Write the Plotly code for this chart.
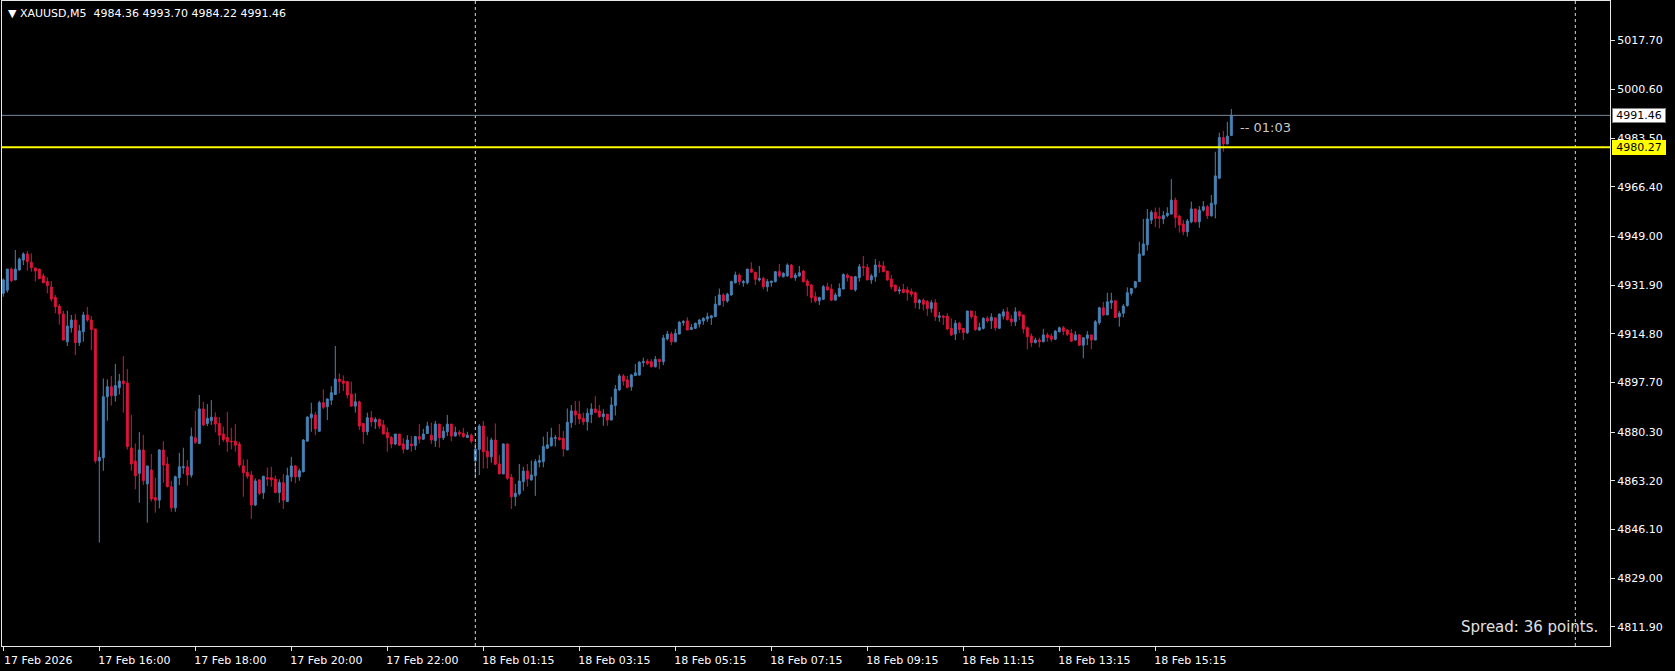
import plotly.graph_objects as go

# ---------------- data (XAUUSD, M5) ----------------
opens = [
    4929.0, 4930.1, 4937.5, 4933.7, 4937.2, 4940.7, 4942.8, 4939.9, 4937.9, 4937.5,
    4935.1, 4933.1, 4931.2, 4927.6, 4924.5, 4921.7, 4912.0, 4916.9, 4919.6, 4911.7,
    4915.5, 4921.4, 4919.6, 4916.5, 4870.2, 4871.3, 4892.7, 4896.2, 4893.1, 4895.9,
    4898.2, 4897.5, 4874.7, 4870.1, 4865.8, 4874.0, 4862.1, 4867.0, 4857.3, 4856.4,
    4874.0, 4869.1, 4861.1, 4853.7, 4864.3, 4867.8, 4868.1, 4865.2, 4878.3, 4876.3,
    4888.4, 4883.3, 4884.3, 4885.5, 4883.3, 4879.6, 4878.4, 4877.1, 4877.1, 4876.1,
    4868.4, 4866.1, 4865.2, 4854.7, 4863.5, 4859.0, 4864.3, 4864.3, 4863.8, 4859.1,
    4862.5, 4855.9, 4864.6, 4868.4, 4864.6, 4866.4, 4877.1, 4885.3, 4886.3, 4880.6,
    4890.6, 4889.2, 4891.5, 4893.5, 4898.9, 4898.2, 4898.0, 4893.6, 4889.4, 4890.9,
    4883.3, 4880.4, 4885.3, 4883.9, 4884.7, 4882.8, 4880.1, 4878.4, 4876.1, 4879.6,
    4876.1, 4874.3, 4876.1, 4875.5, 4878.7, 4877.8, 4879.8, 4879.2, 4877.3, 4883.1,
    4878.3, 4880.4, 4883.1, 4878.9, 4880.2, 4879.8, 4878.4, 4879.2, 4870.2, 4874.2,
    4882.4, 4873.6, 4871.6, 4877.5, 4869.1, 4865.6, 4876.1, 4864.4, 4857.6, 4858.6,
    4862.9, 4866.6, 4863.5, 4865.0, 4869.7, 4869.9, 4874.6, 4875.5, 4878.1, 4878.3,
    4878.1, 4874.0, 4883.6, 4887.7, 4886.6, 4885.1, 4883.9, 4886.5, 4888.4, 4887.7,
    4885.7, 4886.6, 4884.5, 4889.6, 4895.1, 4900.0, 4898.6, 4896.2, 4900.1, 4900.3,
    4904.7, 4905.2, 4905.0, 4903.2, 4905.8, 4905.0, 4913.0, 4914.7, 4912.0, 4914.7,
    4918.7, 4919.3, 4916.3, 4916.7, 4918.2, 4919.3, 4920.0, 4920.4, 4920.8, 4924.9,
    4928.4, 4926.3, 4928.4, 4932.7, 4935.4, 4932.7, 4932.7, 4937.5, 4936.4, 4933.7,
    4934.2, 4931.3, 4932.8, 4933.1, 4936.6, 4934.8, 4935.1, 4938.9, 4934.5, 4935.1,
    4936.8, 4933.3, 4931.9, 4927.8, 4926.4, 4926.9, 4931.3, 4930.5, 4926.6, 4928.0,
    4930.5, 4935.4, 4934.8, 4930.2, 4934.5, 4938.3, 4938.1, 4933.7, 4934.8, 4938.9,
    4938.6, 4936.8, 4934.0, 4931.9, 4929.8, 4930.4, 4930.2, 4929.6, 4929.2, 4925.7,
    4926.6, 4926.1, 4923.7, 4925.7, 4920.6, 4921.0, 4921.0, 4916.7, 4914.7, 4918.5,
    4916.7, 4915.2, 4922.8, 4921.0, 4916.1, 4916.7, 4920.2, 4919.4, 4920.4, 4916.7,
    4921.0, 4922.5, 4920.0, 4919.0, 4922.5, 4921.4, 4916.9, 4914.0, 4911.7, 4912.6,
    4912.0, 4914.4, 4914.0, 4912.9, 4915.5, 4916.9, 4916.1, 4914.9, 4912.6, 4914.4,
    4910.8, 4913.2, 4914.4, 4912.6, 4918.7, 4923.9, 4921.4, 4925.7, 4926.4, 4920.8,
    4922.0, 4924.7, 4929.0, 4931.1, 4933.1, 4942.4, 4946.0, 4954.7, 4957.4, 4955.9,
    4955.1, 4956.3, 4956.8, 4961.7, 4956.1, 4953.3, 4950.6, 4954.1, 4958.6, 4954.1,
    4958.2, 4959.4, 4956.2, 4960.3, 4969.4, 4983.7, 4981.4, 4984.36,
]
highs = [
    4934.2, 4937.5, 4938.1, 4944.2, 4941.6, 4943.4, 4943.8, 4943.0, 4937.9, 4937.5,
    4936.0, 4934.6, 4933.3, 4928.4, 4925.2, 4922.9, 4922.9, 4921.4, 4921.7, 4917.9,
    4922.5, 4924.2, 4921.0, 4916.5, 4873.8, 4899.1, 4898.8, 4900.0, 4904.2, 4900.7,
    4907.0, 4902.4, 4886.3, 4876.3, 4880.3, 4879.3, 4868.4, 4872.6, 4864.3, 4874.3,
    4877.1, 4871.6, 4863.2, 4865.0, 4873.0, 4874.8, 4870.5, 4881.9, 4887.8, 4893.3,
    4890.9, 4890.1, 4891.5, 4887.2, 4885.5, 4882.2, 4887.4, 4881.8, 4883.1, 4876.9,
    4870.7, 4870.7, 4866.6, 4864.0, 4863.8, 4864.8, 4867.8, 4868.1, 4865.0, 4863.7,
    4865.6, 4867.8, 4871.6, 4868.7, 4867.5, 4877.8, 4885.9, 4890.6, 4887.4, 4891.3,
    4895.3, 4892.1, 4896.4, 4910.5, 4900.9, 4900.2, 4898.0, 4898.0, 4893.9, 4891.3,
    4883.3, 4887.1, 4887.7, 4885.5, 4885.1, 4884.5, 4881.9, 4878.9, 4879.6, 4879.6,
    4878.1, 4879.2, 4878.9, 4878.9, 4883.1, 4881.4, 4883.9, 4883.6, 4884.2, 4883.1,
    4882.2, 4886.3, 4883.1, 4882.2, 4881.0, 4881.8, 4880.4, 4879.8, 4876.5, 4883.1,
    4884.2, 4878.7, 4878.3, 4883.3, 4872.2, 4876.3, 4876.3, 4865.6, 4862.1, 4869.1,
    4868.1, 4869.1, 4870.3, 4870.8, 4872.2, 4878.7, 4880.4, 4881.8, 4879.3, 4883.1,
    4880.7, 4888.6, 4889.8, 4891.2, 4891.2, 4887.1, 4888.6, 4890.4, 4892.9, 4889.8,
    4888.3, 4886.6, 4892.7, 4896.8, 4900.7, 4900.7, 4900.0, 4900.7, 4904.2, 4905.2,
    4906.4, 4905.9, 4905.9, 4907.0, 4905.8, 4914.4, 4915.8, 4915.5, 4916.5, 4919.3,
    4919.6, 4920.6, 4918.2, 4918.7, 4920.0, 4920.6, 4922.2, 4921.4, 4928.0, 4930.7,
    4929.0, 4929.2, 4933.4, 4936.6, 4936.0, 4933.7, 4937.5, 4939.9, 4936.4, 4938.6,
    4934.8, 4934.0, 4933.3, 4936.6, 4939.3, 4936.4, 4939.5, 4939.3, 4936.2, 4938.6,
    4937.2, 4933.9, 4932.3, 4929.6, 4927.8, 4931.9, 4932.7, 4932.3, 4929.2, 4932.5,
    4936.0, 4936.0, 4935.1, 4935.1, 4939.3, 4942.1, 4939.3, 4935.8, 4941.0, 4940.3,
    4940.3, 4936.8, 4935.4, 4931.9, 4931.3, 4932.3, 4931.3, 4930.7, 4929.6, 4927.0,
    4927.2, 4926.6, 4926.6, 4926.9, 4922.5, 4921.4, 4922.0, 4920.2, 4919.6, 4919.0,
    4916.7, 4922.8, 4922.8, 4922.8, 4918.7, 4920.6, 4921.0, 4922.0, 4920.5, 4921.9,
    4923.5, 4924.1, 4921.4, 4924.1, 4922.9, 4921.4, 4917.3, 4914.9, 4913.4, 4913.4,
    4916.5, 4915.2, 4914.9, 4916.1, 4917.3, 4917.5, 4916.5, 4916.5, 4915.7, 4914.7,
    4913.4, 4915.7, 4914.4, 4919.6, 4924.3, 4926.0, 4929.2, 4929.2, 4926.4, 4922.8,
    4925.2, 4931.1, 4930.7, 4933.3, 4947.1, 4955.1, 4958.6, 4958.2, 4959.1, 4959.1,
    4957.9, 4959.2, 4969.1, 4962.6, 4956.5, 4954.7, 4955.1, 4961.2, 4958.8, 4959.6,
    4961.4, 4960.0, 4963.5, 4978.7, 4985.4, 4986.0, 4989.2, 4993.70,
]
lows = [
    4927.8, 4929.2, 4933.0, 4933.7, 4936.9, 4938.9, 4936.9, 4936.6, 4933.1, 4934.1,
    4932.5, 4929.0, 4926.1, 4922.0, 4918.0, 4912.4, 4910.5, 4915.2, 4907.3, 4910.5,
    4912.0, 4919.0, 4909.1, 4869.3, 4841.5, 4866.7, 4884.3, 4889.6, 4891.0, 4893.5,
    4887.1, 4874.2, 4866.7, 4860.2, 4855.5, 4861.7, 4848.5, 4855.9, 4852.0, 4853.5,
    4862.5, 4860.9, 4852.3, 4852.3, 4861.7, 4865.6, 4861.5, 4864.3, 4876.1, 4876.1,
    4882.4, 4882.4, 4882.8, 4880.2, 4875.7, 4876.9, 4873.4, 4874.2, 4873.4, 4867.9,
    4857.6, 4863.9, 4849.8, 4854.3, 4858.2, 4856.8, 4861.3, 4861.1, 4858.8, 4855.5,
    4853.3, 4855.9, 4862.9, 4862.3, 4863.2, 4866.1, 4876.9, 4880.4, 4879.2, 4880.4,
    4888.4, 4884.5, 4889.8, 4893.3, 4893.9, 4894.7, 4892.1, 4889.2, 4887.1, 4881.0,
    4876.1, 4879.2, 4882.2, 4881.4, 4881.4, 4879.6, 4873.4, 4874.6, 4875.7, 4875.4,
    4872.8, 4874.0, 4873.4, 4874.0, 4876.3, 4877.5, 4879.6, 4876.1, 4875.1, 4874.8,
    4877.5, 4878.9, 4877.1, 4878.7, 4878.7, 4878.3, 4878.3, 4876.3, 4864.6, 4865.2,
    4867.5, 4867.5, 4869.5, 4868.7, 4865.6, 4865.6, 4863.5, 4853.3, 4854.3, 4858.0,
    4859.7, 4861.1, 4863.2, 4857.9, 4867.9, 4867.9, 4874.4, 4875.2, 4875.2, 4877.3,
    4871.7, 4874.0, 4881.8, 4882.8, 4883.1, 4882.8, 4880.8, 4883.4, 4886.9, 4885.3,
    4882.5, 4882.5, 4884.5, 4886.1, 4894.8, 4896.6, 4895.6, 4894.8, 4900.0, 4900.1,
    4903.2, 4903.8, 4903.0, 4903.0, 4902.4, 4903.8, 4912.4, 4910.8, 4911.8, 4914.6,
    4917.6, 4916.1, 4916.1, 4916.5, 4917.0, 4917.9, 4919.0, 4917.9, 4920.6, 4924.9,
    4924.3, 4925.7, 4928.2, 4932.5, 4931.9, 4931.3, 4932.1, 4936.4, 4931.9, 4933.1,
    4930.4, 4929.6, 4931.3, 4932.8, 4934.5, 4934.6, 4934.8, 4934.2, 4933.4, 4934.8,
    4932.7, 4928.0, 4925.7, 4925.7, 4924.9, 4926.6, 4929.9, 4926.3, 4926.6, 4927.8,
    4930.4, 4933.1, 4930.2, 4929.6, 4933.1, 4935.1, 4933.7, 4932.3, 4933.1, 4936.2,
    4936.4, 4933.4, 4930.4, 4929.6, 4928.7, 4929.0, 4926.4, 4927.8, 4923.7, 4923.4,
    4922.9, 4921.1, 4922.2, 4919.3, 4919.0, 4917.9, 4916.1, 4914.0, 4912.6, 4915.0,
    4912.6, 4914.7, 4920.0, 4915.8, 4915.8, 4916.3, 4918.7, 4916.5, 4915.9, 4916.5,
    4919.8, 4919.4, 4917.6, 4917.5, 4919.6, 4914.9, 4909.3, 4910.2, 4911.4, 4910.0,
    4911.8, 4912.0, 4912.0, 4912.6, 4915.3, 4914.3, 4914.0, 4912.0, 4912.4, 4910.6,
    4906.2, 4910.8, 4909.3, 4912.6, 4917.9, 4921.0, 4921.4, 4923.5, 4920.5, 4917.3,
    4920.6, 4924.3, 4928.2, 4930.7, 4933.1, 4942.4, 4944.0, 4953.3, 4952.2, 4951.8,
    4953.3, 4955.7, 4956.8, 4952.0, 4950.3, 4949.4, 4948.9, 4953.6, 4953.8, 4952.0,
    4957.7, 4955.1, 4955.9, 4955.3, 4969.1, 4978.7, 4981.4, 4984.22,
]
closes = [
    4933.7, 4937.5, 4933.4, 4937.5, 4941.0, 4942.8, 4940.1, 4938.0, 4936.8, 4934.1,
    4932.7, 4931.7, 4927.0, 4924.3, 4921.8, 4912.6, 4917.5, 4919.6, 4911.7, 4915.8,
    4921.4, 4919.6, 4916.3, 4870.2, 4871.4, 4892.7, 4896.2, 4893.1, 4896.6, 4898.2,
    4897.3, 4875.2, 4869.1, 4865.0, 4874.0, 4863.2, 4868.4, 4856.8, 4856.4, 4874.0,
    4868.7, 4861.1, 4853.7, 4864.6, 4868.1, 4868.1, 4865.2, 4878.7, 4876.7, 4888.4,
    4882.8, 4885.1, 4885.5, 4883.1, 4879.2, 4877.7, 4876.9, 4876.9, 4875.7, 4868.7,
    4866.0, 4864.8, 4854.7, 4863.1, 4858.8, 4864.8, 4863.8, 4863.5, 4859.1, 4862.6,
    4856.4, 4865.0, 4868.4, 4864.6, 4866.7, 4877.5, 4885.5, 4886.6, 4881.4, 4890.6,
    4889.0, 4891.9, 4894.1, 4898.9, 4898.0, 4897.4, 4893.3, 4889.4, 4890.9, 4882.4,
    4880.4, 4885.3, 4883.9, 4884.7, 4882.4, 4879.6, 4878.3, 4876.1, 4879.6, 4875.7,
    4874.3, 4877.5, 4875.5, 4878.7, 4877.8, 4879.6, 4882.4, 4877.5, 4883.1, 4878.3,
    4880.6, 4883.1, 4878.9, 4880.2, 4879.6, 4878.7, 4879.2, 4877.1, 4874.3, 4882.4,
    4873.4, 4871.6, 4877.5, 4869.0, 4865.6, 4876.1, 4864.1, 4857.6, 4858.8, 4863.1,
    4866.6, 4863.8, 4865.2, 4869.9, 4870.3, 4875.2, 4875.8, 4878.3, 4878.3, 4877.7,
    4874.4, 4883.7, 4887.7, 4886.3, 4884.9, 4883.9, 4886.9, 4888.4, 4887.2, 4885.7,
    4886.6, 4884.5, 4889.8, 4895.4, 4900.0, 4898.2, 4896.0, 4900.3, 4901.1, 4904.8,
    4905.0, 4904.4, 4903.2, 4905.8, 4905.0, 4913.3, 4914.7, 4912.0, 4915.0, 4918.8,
    4919.0, 4916.1, 4917.0, 4918.5, 4919.6, 4920.2, 4920.8, 4921.1, 4925.2, 4928.4,
    4926.4, 4928.7, 4933.1, 4935.4, 4933.1, 4933.1, 4937.5, 4936.4, 4933.9, 4934.2,
    4931.3, 4933.1, 4933.3, 4936.6, 4935.1, 4936.0, 4938.9, 4934.5, 4935.4, 4936.2,
    4933.1, 4931.7, 4927.5, 4926.3, 4927.5, 4931.3, 4930.2, 4926.6, 4928.4, 4930.7,
    4935.6, 4934.5, 4930.4, 4934.8, 4938.3, 4938.1, 4933.7, 4935.1, 4938.9, 4938.3,
    4936.6, 4933.7, 4931.3, 4929.8, 4930.2, 4929.3, 4929.2, 4928.7, 4925.7, 4926.6,
    4925.2, 4923.7, 4925.7, 4920.8, 4921.0, 4920.6, 4916.5, 4914.4, 4918.5, 4916.3,
    4915.2, 4922.8, 4920.8, 4916.3, 4917.0, 4920.2, 4919.3, 4920.6, 4916.9, 4921.7,
    4922.5, 4919.8, 4919.0, 4922.5, 4921.0, 4916.5, 4913.8, 4911.7, 4912.6, 4912.0,
    4914.4, 4913.5, 4912.9, 4915.7, 4916.9, 4915.7, 4914.6, 4912.2, 4914.4, 4910.8,
    4913.4, 4914.4, 4912.6, 4919.0, 4923.9, 4921.4, 4926.0, 4926.4, 4920.5, 4922.0,
    4924.5, 4929.2, 4930.7, 4933.1, 4942.8, 4946.3, 4955.1, 4957.4, 4955.3, 4955.3,
    4956.3, 4957.1, 4961.7, 4955.6, 4953.0, 4950.6, 4954.4, 4958.6, 4954.1, 4958.2,
    4959.4, 4956.2, 4960.6, 4970.2, 4983.7, 4981.4, 4984.2, 4991.46,
]

# time-axis labels (one every 24 bars) and their bar numbers
time_label_bars = [0, 24, 48, 72, 96, 120, 144, 168, 192, 216, 240, 264, 288]
time_labels = ["17 Feb 2026", "17 Feb 16:00", "17 Feb 18:00", "17 Feb 20:00",
               "17 Feb 22:00", "18 Feb 01:15", "18 Feb 03:15", "18 Feb 05:15",
               "18 Feb 07:15", "18 Feb 09:15", "18 Feb 11:15", "18 Feb 13:15",
               "18 Feb 15:15"]
price_ticks = [5017.70, 5000.60, 4983.50, 4966.40, 4949.00, 4931.90, 4914.80,
               4897.70, 4880.30, 4863.20, 4846.10, 4829.00, 4811.90]
day_separator_bars = [118, 393]
bid_price = 4991.46
level_price = 4980.27
symbol = "XAUUSD,M5"
spread_points = 36
bar_timer = "01:03"

# ---------------- figure ----------------
bars = list(range(len(opens)))
BULL = "#4682B4"
BEAR = "#DC143C"
FONT = "DejaVu Sans"

fig = go.Figure()
fig.add_trace(go.Candlestick(
    x=bars, open=opens, high=highs, low=lows, close=closes,
    increasing=dict(line=dict(color=BULL, width=1), fillcolor=BULL),
    decreasing=dict(line=dict(color=BEAR, width=1), fillcolor=BEAR),
    whiskerwidth=0, hoverinfo="skip", showlegend=False,
))

shapes = []
for b in day_separator_bars:
    shapes.append(dict(type="line", xref="x", yref="paper", x0=b, x1=b, y0=0, y1=1,
                       line=dict(color="#d8d8d8", width=1, dash="dot"), layer="above"))
shapes.append(dict(type="line", xref="paper", yref="y", x0=0, x1=1, y0=bid_price, y1=bid_price,
                   line=dict(color="#778899", width=1), layer="above"))
shapes.append(dict(type="line", xref="paper", yref="y", x0=0, x1=1, y0=level_price, y1=level_price,
                   line=dict(color="#FFFF00", width=2), layer="above"))

annotations = [
    dict(xref="paper", yref="paper", x=0, y=1, xanchor="left", yanchor="top",
         xshift=4, yshift=-4, showarrow=False,
         text="▼ " + symbol + "\u00a0\u00a0" + " ".join(
             f"{v:.2f}" for v in (opens[-1], highs[-1], lows[-1], closes[-1])),
         font=dict(family=FONT, size=11, color="#ffffff")),
    dict(xref="paper", yref="y", x=1, y=bid_price, xanchor="left", yanchor="middle",
         xshift=2, showarrow=False, text=f"{bid_price:.2f}", width=52,
         bgcolor="#ffffff", bordercolor="#808080", borderwidth=1, borderpad=0,
         font=dict(family=FONT, size=11, color="#000000")),
    dict(xref="paper", yref="y", x=1, y=level_price, xanchor="left", yanchor="middle",
         xshift=2, showarrow=False, text=f"{level_price:.2f}", width=52,
         bgcolor="#FFFF00", bordercolor="#FFFF00", borderwidth=1, borderpad=0,
         font=dict(family=FONT, size=11, color="#000000")),
    dict(xref="x", yref="y", x=bars[-1], y=bid_price, xanchor="left", yanchor="middle",
         xshift=7, yshift=-12, showarrow=False, text="-- " + bar_timer,
         font=dict(family=FONT, size=13, color="#c8c8c8")),
    dict(xref="paper", yref="paper", x=1, y=0, xanchor="right", yanchor="middle",
         xshift=-10, yshift=19, showarrow=False, text=f"Spread: {spread_points} points.",
         font=dict(family=FONT, size=15, color="#e0e0e0")),
]

fig.update_layout(
    width=1675, height=671,
    margin=dict(l=2, r=65, t=1, b=25),
    paper_bgcolor="#000000", plot_bgcolor="#000000",
    showlegend=False,
    shapes=shapes, annotations=annotations,
    xaxis=dict(
        range=[-0.33, 401.67], rangeslider=dict(visible=False),
        showgrid=False, zeroline=False,
        showline=True, linecolor="#e8e8e8", linewidth=1, mirror=True,
        ticks="outside", ticklen=4, tickcolor="#e8e8e8",
        tickmode="array", tickvals=time_label_bars, ticktext=time_labels,
        ticklabelshift=35,
        tickfont=dict(family=FONT, size=11, color="#ffffff"),
    ),
    yaxis=dict(
        range=[4805.2, 5031.6], side="right",
        showgrid=False, zeroline=False,
        showline=True, linecolor="#e8e8e8", linewidth=1, mirror=True,
        ticks="outside", ticklen=4, tickcolor="#e8e8e8",
        tickmode="array", tickvals=price_ticks,
        ticktext=[f"{v:.2f}" for v in price_ticks],
        tickfont=dict(family=FONT, size=11, color="#ffffff"),
    ),
)

fig.write_html(
    "out.html",
    config={"displayModeBar": False},
    post_script="document.body.style.margin='0';document.body.style.overflow='hidden';"
                "document.body.style.background='#000';",
)
